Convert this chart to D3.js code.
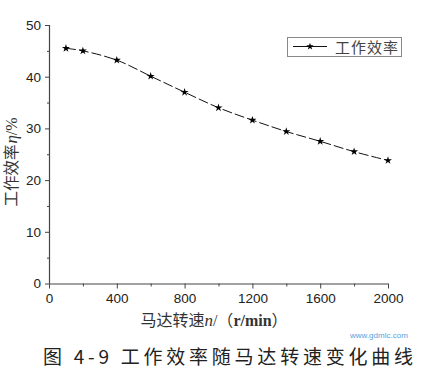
<!DOCTYPE html>
<html><head><meta charset="utf-8">
<script src="https://cdn.jsdelivr.net/npm/d3@7"></script>
<style>body{margin:0;background:#fff}svg{display:block}</style>
</head><body>
<svg id="c" width="433" height="373"></svg>
<script>
const speeds = [100, 200, 400, 600, 800, 1000, 1200, 1400, 1600, 1800, 2000];
const efficiency = [45.5, 45.0, 43.2, 40.1, 37.0, 34.0, 31.6, 29.4, 27.5, 25.5, 23.8];
const xTicks = [0, 400, 800, 1200, 1600, 2000];
const xMinor = [200, 600, 1000, 1400, 1800];
const yTicks = [0, 10, 20, 30, 40, 50];
const yMinor = [5, 15, 25, 35, 45];
const seriesName = "工作效率";
const xTitle = "马达转速";
const yTitle = "工作效率";
const caption = "图 4-9 工作效率随马达转速变化曲线";
const watermark = "www.gdmlc.com";

const svg = d3.select("#c");
const x = d3.scaleLinear().domain([0, 2000]).range([49, 388]);
const y = d3.scaleLinear().domain([0, 50]).range([283.5, 25]);
const axisColor = "#444";
const sans = "'Liberation Sans', Arial, sans-serif";
const cjk = "'Noto Sans CJK SC', sans-serif";
const serif = "'Liberation Serif', 'Times New Roman', serif";

// x axis
const gx = svg.append("g").attr("transform", `translate(0,${y(0)})`)
  .call(d3.axisBottom(x).tickValues(xTicks).tickSize(5).tickPadding(5).tickFormat(d3.format("d")));
svg.append("g").attr("transform", `translate(0,${y(0)})`)
  .call(d3.axisBottom(x).tickValues(xMinor).tickSize(3).tickFormat(""))
  .select(".domain").remove();
// y axis
const gy = svg.append("g").attr("transform", `translate(${x(0)},0)`)
  .call(d3.axisLeft(y).tickValues(yTicks).tickSize(4).tickPadding(4));
svg.append("g").attr("transform", `translate(${x(0)},0)`)
  .call(d3.axisLeft(y).tickValues(yMinor).tickSize(2).tickFormat(""))
  .select(".domain").remove();

svg.selectAll(".domain").attr("stroke", axisColor).attr("stroke-width", 1.2);
svg.selectAll(".tick line").attr("stroke", axisColor);
svg.selectAll(".tick text").attr("fill", "#222").style("font-family", sans).style("font-size", "13.5px");
gy.selectAll(".domain").attr("d", `M0.5,${y(50)}V${y(0)}`);
gx.selectAll(".domain").attr("d", `M${x(0)},0.5H${x(2000)}`);

// line
const pts = speeds.map((s, i) => [s, efficiency[i]]);
svg.append("path").datum(pts)
  .attr("d", d3.line().x(d => x(d[0])).y(d => y(d[1])).curve(d3.curveCatmullRom))
  .attr("fill", "none").attr("stroke", "#111").attr("stroke-width", 1)
  .attr("stroke-dasharray", "10,3");
const star = d3.symbol().type(d3.symbolStar).size(20);
svg.selectAll(".pt").data(pts).join("path")
  .attr("transform", d => `translate(${x(d[0])},${y(d[1])})`)
  .attr("d", star).attr("fill", "#000");

// legend
const lg = svg.append("g");
lg.append("rect").attr("x", 287.5).attr("y", 37.5).attr("width", 114).attr("height", 19)
  .attr("fill", "#fff").attr("stroke", "#888").attr("stroke-width", 1);
lg.append("line").attr("x1", 293).attr("x2", 327).attr("y1", 46.5).attr("y2", 46.5)
  .attr("stroke", "#111").attr("stroke-width", 1.2);
lg.append("path").attr("transform", "translate(310,46.5)").attr("d", d3.symbol().type(d3.symbolStar).size(16)).attr("fill", "#000");
lg.append("text").attr("x", 335).attr("y", 52.5).text(seriesName)
  .style("font-family", cjk).style("font-size", "15px").attr("fill", "#444").attr("textLength", 63);

// y title
const yt = svg.append("text").attr("transform", "translate(17,162) rotate(-90)")
  .attr("text-anchor", "middle").attr("fill", "#333").style("font-size", "15.5px");
yt.append("tspan").style("font-family", cjk).text(yTitle);
yt.append("tspan").style("font-family", serif).style("font-style", "italic").style("font-size", "17px").attr("dx", 1).text("η");
yt.append("tspan").style("font-family", serif).style("font-size", "16px").text("/%");

// x title
const xt = svg.append("text").attr("x", 214).attr("y", 326)
  .attr("text-anchor", "middle").attr("fill", "#333").style("font-size", "16px");
xt.append("tspan").style("font-family", cjk).text(xTitle);
xt.append("tspan").style("font-family", serif).style("font-style", "italic").style("font-size", "17px").text("n");
xt.append("tspan").style("font-family", serif).text("/");
xt.append("tspan").style("font-family", cjk).text("（");
xt.append("tspan").style("font-family", serif).style("font-weight", "bold").text("r/min");
xt.append("tspan").style("font-family", cjk).text("）");

// caption
svg.append("text").attr("x", 43).attr("y", 364).text(caption)
  .attr("textLength", 370).attr("lengthAdjust", "spacing")
  .style("font-family", cjk).style("font-size", "19px").attr("fill", "#222");
svg.append("text").attr("x", 350).attr("y", 338).text(watermark)
  .style("font-family", sans).style("font-size", "8px").attr("fill", "#3a8fd8").attr("opacity", 0.85);
</script>
</body></html>
